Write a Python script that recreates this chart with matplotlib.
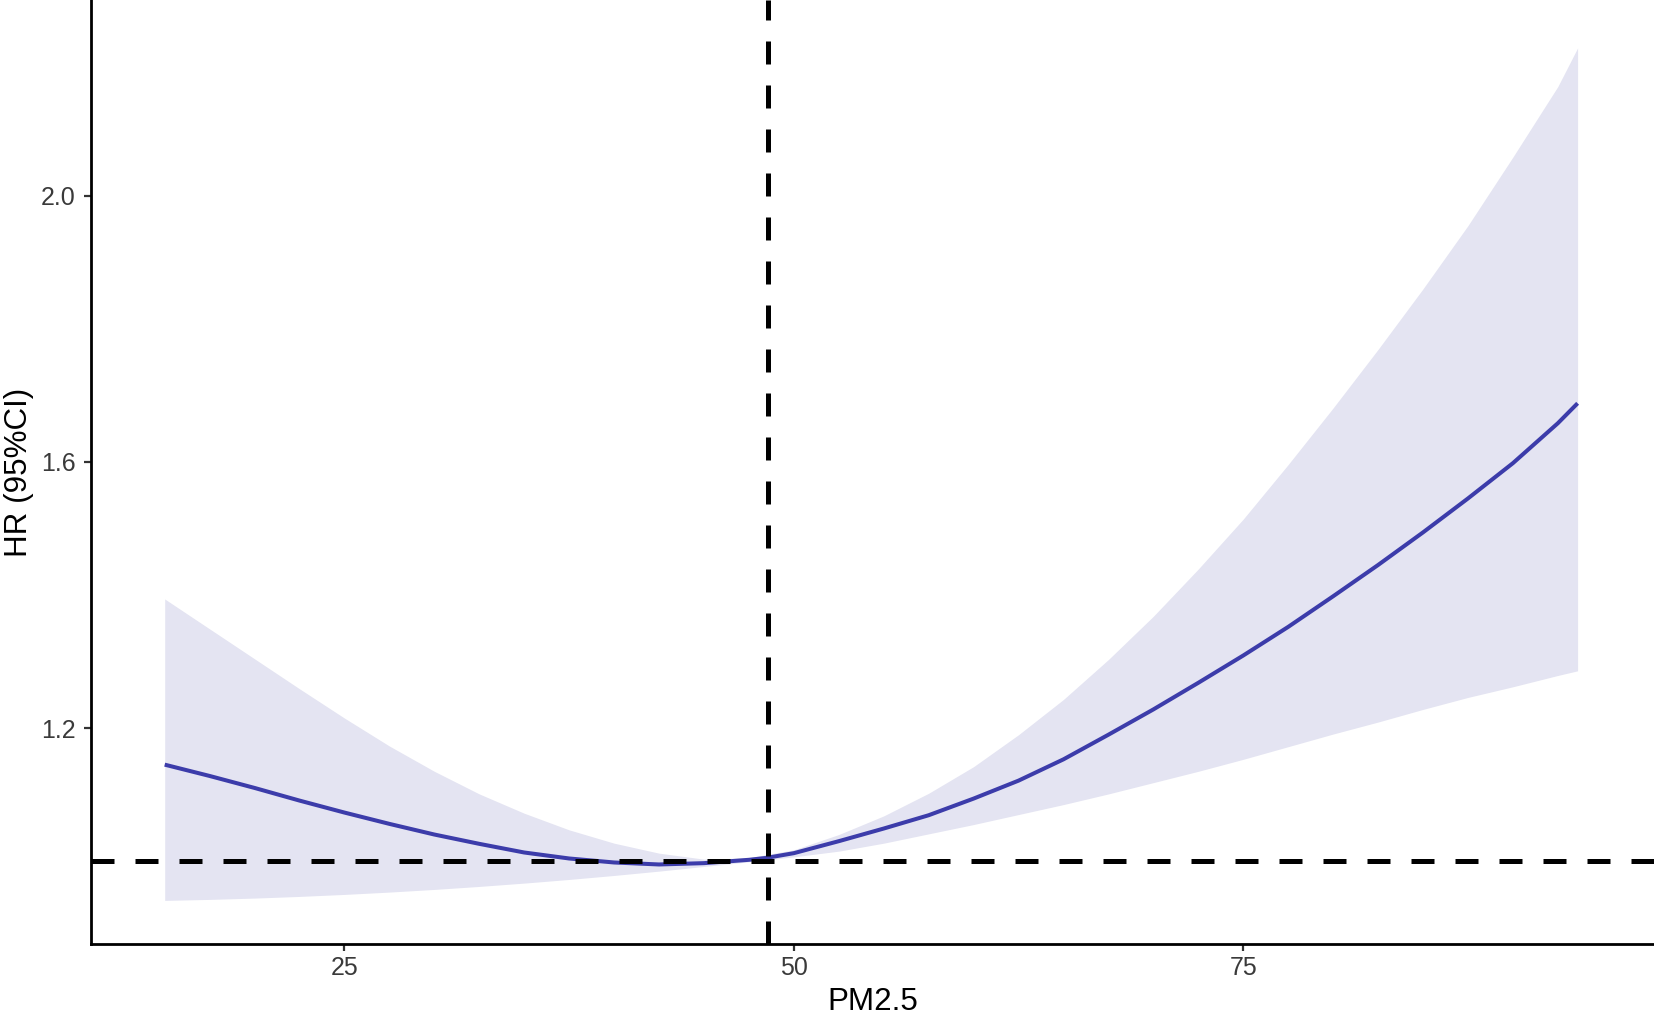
import matplotlib
matplotlib.use("Agg")
import matplotlib.pyplot as plt

plt.rcParams['font.family'] = ['Liberation Sans', 'DejaVu Sans']

# PM2.5 exposure values
pm25 = [15, 17.5, 20, 22.5, 25, 27.5, 30, 32.5, 35, 37.5, 40, 42.5, 45, 47.5,
        48.5, 50, 52.5, 55, 57.5, 60, 62.5, 65, 67.5, 70, 72.5, 75, 77.5, 80,
        82.5, 85, 87.5, 90, 92.5, 93.6]
# Hazard ratio estimate
hr = [1.145, 1.128, 1.110, 1.091, 1.073, 1.056, 1.040, 1.026, 1.013, 1.004,
      0.998, 0.995, 0.997, 1.002, 1.005, 1.012, 1.030, 1.049, 1.069, 1.094,
      1.121, 1.153, 1.190, 1.228, 1.268, 1.309, 1.352, 1.398, 1.445, 1.494,
      1.545, 1.598, 1.658, 1.688]
# Upper 95% CI
hr_upper = [1.394, 1.349, 1.304, 1.259, 1.215, 1.173, 1.135, 1.101, 1.072,
            1.047, 1.027, 1.012, 1.003, 1.005, 1.010, 1.017, 1.040, 1.068,
            1.102, 1.142, 1.190, 1.243, 1.303, 1.368, 1.439, 1.514, 1.596,
            1.681, 1.769, 1.860, 1.955, 2.058, 2.164, 2.222]
# Lower 95% CI
hr_lower = [0.941, 0.9425, 0.9445, 0.947, 0.950, 0.9535, 0.9575, 0.962, 0.967,
            0.9725, 0.9785, 0.985, 0.992, 0.999, 1.002, 1.0065, 1.015, 1.027,
            1.041, 1.055, 1.070, 1.085, 1.101, 1.118, 1.135, 1.153, 1.172,
            1.191, 1.209, 1.228, 1.246, 1.262, 1.279, 1.286]

ref_x = 48.54
ref_y = 1.0
xticks = [25, 50, 75]
yticks = [1.2, 1.6, 2.0]
xtick_labels = ["25", "50", "75"]
ytick_labels = ["1.2", "1.6", "2.0"]

W, H = 1654, 1018
fig = plt.figure(figsize=(W / 100, H / 100), dpi=100)
ax = fig.add_axes([91 / W, (H - 944) / H, (W - 91) / W, 944 / H])

ax.fill_between(pm25, hr_lower, hr_upper, color='#E4E4F2', linewidth=0, zorder=1)
ax.plot(pm25, hr, color='#3C3CAA', linewidth=2.9, zorder=2,
        solid_capstyle='butt', solid_joinstyle='round')

ax.axhline(ref_y, color='black', linewidth=3.6, linestyle=(0, (4.6, 4.2)),
           dash_capstyle='butt', zorder=3)
ax.axvline(ref_x, color='black', linewidth=3.6, linestyle=(0, (4.6, 4.2)),
           dash_capstyle='butt', zorder=3)

ax.set_xlim(10.9, 97.85)
ax.set_ylim(0.8755, 2.294)

ax.set_xticks(xticks)
ax.set_xticklabels(xtick_labels)
ax.set_yticks(yticks)
ax.set_yticklabels(ytick_labels)

for side in ['top', 'right']:
    ax.spines[side].set_visible(False)
for side in ['left', 'bottom']:
    ax.spines[side].set_linewidth(2.0)
    ax.spines[side].set_color('black')
    ax.spines[side].set_zorder(5)

ax.tick_params(axis='both', length=5, width=1.6, color='#333333',
               labelsize=18, labelcolor='#3a3a3a')
ax.tick_params(axis='x', pad=3.8)
ax.tick_params(axis='y', pad=5.8)

ax.set_xlabel("PM2.5", fontsize=22.6, color='black')
ax.set_ylabel("HR (95%CI)", fontsize=22.6, color='black')
ax.xaxis.set_label_coords(0.5, -0.0456)
ax.yaxis.set_label_coords(-0.0365, 0.5)

fig.savefig("out.png", dpi=100, facecolor='white')
